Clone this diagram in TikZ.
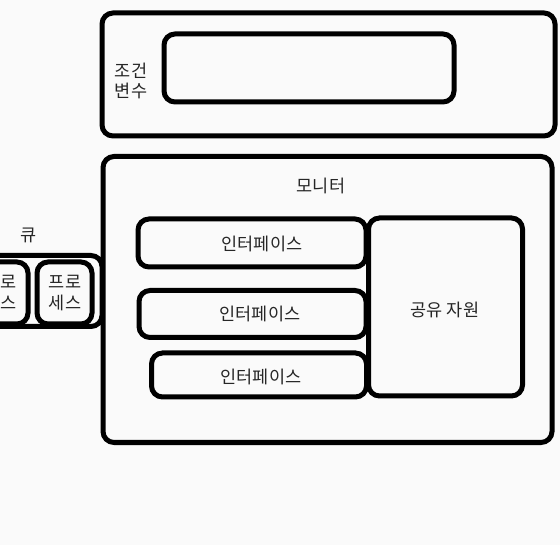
\documentclass[tikz,border=0pt]{standalone}
\usepackage{fontspec}
\setmainfont{Noto Sans CJK KR}
\begin{document}
\begin{tikzpicture}[x=1pt,y=-1pt,
  box/.style={draw=black,line width=5pt,rounded corners=11pt,fill=none,inner sep=0pt},
  lbl/.style={font=\fontsize{17.5}{20.5}\selectfont,text=black!85,align=center,inner sep=0pt}]
\useasboundingbox (0,0) rectangle (560,545);
\fill[white!98!black] (0,0) rectangle (560,545);
\clip (0,0) rectangle (560,545);
% condition variable
\node[box,minimum width=453pt,minimum height=123pt] (cvouter) at (328.5,74.5) {};
\node[box,minimum width=290pt,minimum height=68pt] (cvinner) at (309,68) {};
\node[lbl] (cvlabel) at (131,81) {조건\\변수};
% monitor
\node[box,minimum width=449pt,minimum height=286pt] (monitor) at (327.5,299.5) {};
\node[lbl] (monlabel) at (321,186) {모니터};
\node[box,minimum width=228pt,minimum height=48pt] (if1) at (252,243) {};
\node[lbl] (if1l) at (262,244) {인터페이스};
\node[box,minimum width=227pt,minimum height=47pt] (if2) at (252.5,314) {};
\node[lbl] (if2l) at (260,314) {인터페이스};
\node[box,minimum width=215pt,minimum height=44pt] (if3) at (259,375) {};
\node[lbl] (if3l) at (261,377) {인터페이스};
\node[box,minimum width=154pt,minimum height=178pt] (shared) at (445.5,307) {};
\node[lbl] (sharedl) at (445,310) {공유 자원};
% queue
\node[lbl] (qlabel) at (29,235) {큐};
\node[box,minimum width=300pt,minimum height=71pt] (queue) at (-48,291) {};
\node[box,minimum width=55pt,minimum height=62pt] (p1) at (0.5,293) {};
\node[lbl] (p1l) at (1,293) {프로\\세스};
\node[box,minimum width=55pt,minimum height=62pt] (p2) at (64.5,293) {};
\node[lbl] (p2l) at (65,293) {프로\\세스};
\end{tikzpicture}
\end{document}
